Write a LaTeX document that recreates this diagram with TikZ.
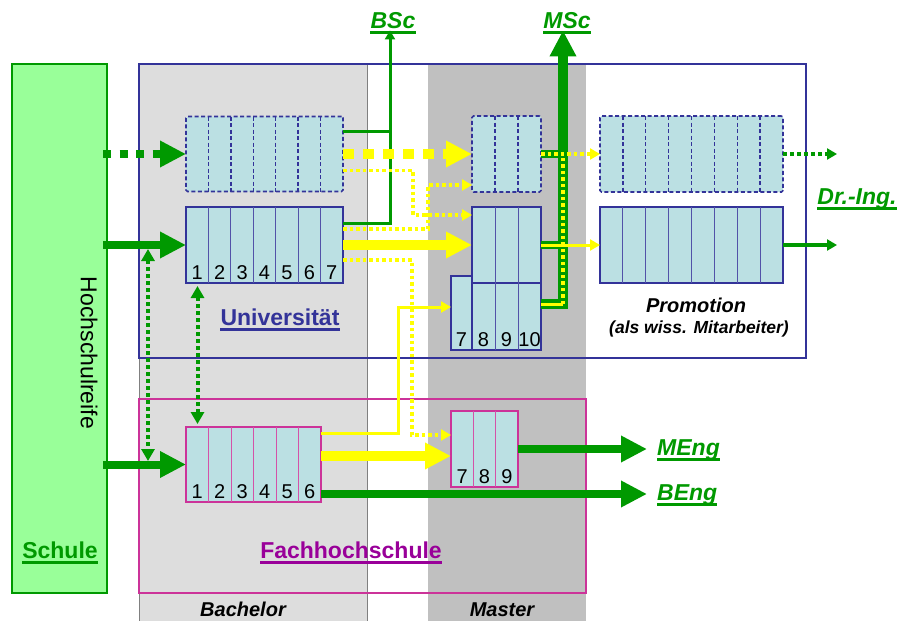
\documentclass[tikz,border=0pt]{standalone}
\usepackage{fontspec}
\setmainfont{Liberation Sans}
\usetikzlibrary{arrows.meta,calc}
\definecolor{grn}{HTML}{009900}
\definecolor{ublue}{HTML}{333399}
\definecolor{fpink}{HTML}{CC3399}
\definecolor{fpurp}{HTML}{990099}
\definecolor{cellfill}{HTML}{BBE0E3}
\definecolor{lgrey}{HTML}{DDDDDD}
\definecolor{dgrey}{HTML}{C0C0C0}
\definecolor{yel}{HTML}{FFFF00}
\definecolor{schfill}{HTML}{99FF99}
\begin{document}
\begin{tikzpicture}[x=1pt,y=-1pt,
  ucell/.style={draw=ublue, line width=1.2pt, fill=cellfill, inner sep=0pt, outer sep=0pt},
  udash/.style={draw=ublue, line width=1.6pt, dash pattern=on 4pt off 2.5pt, rounded corners=1.5pt, fill=cellfill, inner sep=0pt, outer sep=0pt},
  fcell/.style={draw=fpink, line width=1.2pt, fill=cellfill, inner sep=0pt, outer sep=0pt},
  udivd/.style={draw=ublue, line width=1.4pt, dash pattern=on 4pt off 2.5pt},
  udiv/.style={draw=ublue!85, line width=1pt},
  fdiv/.style={draw=fpink!85, line width=1pt},
  num/.style={font=\fontsize{20}{24}\selectfont, inner sep=0pt, anchor=base, yshift=3.5pt},
  glabel/.style={font=\fontsize{23}{27}\selectfont\bfseries\itshape, text=grn, inner sep=0pt},
  blabel/.style={font=\fontsize{23}{27}\selectfont\bfseries, inner sep=0pt, anchor=base},
  bigtip/.style={-{Triangle[length=26pt,width=25pt]}},
  smalltip/.style={-{Triangle[length=10pt,width=11pt]}},
  ydot/.style={yel, line width=3.5pt, dash pattern=on 3.5pt off 3pt},
  gdot/.style={grn, line width=4pt, dash pattern=on 4pt off 3pt},
]
\useasboundingbox (0,0) rectangle (900,621);
% columns
\fill[lgrey] (139,64) rectangle (367,621);
\fill[dgrey] (428,64) rectangle (586,621);
\draw[gray, line width=1pt] (139,64) -- (139,621) (367,64) -- (367,621);
% frames
\node[draw=ublue, line width=2.5pt, minimum width=667pt, minimum height=294pt, inner sep=0pt] (uni) at (472.5,211) {};
\node[draw=fpink, line width=2.5pt, minimum width=447pt, minimum height=194pt, inner sep=0pt] (fh) at (362.5,496) {};
\node[draw=grn, fill=schfill, line width=2.2pt, minimum width=95pt, minimum height=529pt, inner sep=0pt] (schule) at (59.5,328.5) {};
% cell blocks
\node[udash, minimum width=157pt, minimum height=75pt] (bd) at (264.5,154) {};
\node[ucell, minimum width=157pt, minimum height=76pt] (bs) at (264.5,245) {};
\node[udash, minimum width=69pt, minimum height=76pt] (md) at (506.5,154) {};
\node[ucell, minimum width=21pt, minimum height=74pt] (m7) at (461.5,313) {};
\node[ucell, minimum width=69pt, minimum height=67pt] (mlo) at (506.5,316.5) {};
\node[ucell, minimum width=69pt, minimum height=76pt] (ms) at (506.5,245) {};
\node[udash, minimum width=183pt, minimum height=76pt] (pd) at (691.5,154) {};
\node[ucell, minimum width=183pt, minimum height=76pt] (ps) at (691.5,245) {};
\node[fcell, minimum width=135pt, minimum height=75pt] (fb) at (253.5,464.5) {};
\node[fcell, minimum width=67pt, minimum height=76pt] (fm) at (484.5,449) {};
\foreach \b/\n/\st in {bd/7/udivd, bs/7/udiv, md/3/udivd, mlo/3/udiv, ms/3/udiv, pd/8/udivd, ps/8/udiv, fb/6/fdiv, fm/3/fdiv} {
  \pgfmathtruncatemacro\m{\n-1}
  \foreach \i in {1,...,\m}
    \draw[\st] ($(\b.north west)!{\i/\n}!(\b.north east)$) -- ($(\b.south west)!{\i/\n}!(\b.south east)$);
}
% numbers
\foreach \i in {1,...,7} \node[num] at ($(bs.south west)!{(\i-0.5)/7}!(bs.south east)$) {\i};
\node[num] at (m7.south) {7};
\foreach \i/\t in {1/8,2/9,3/10} \node[num] at ($(mlo.south west)!{(\i-0.5)/3}!(mlo.south east)$) {\t};
\foreach \i in {1,...,6} \node[num] at ($(fb.south west)!{(\i-0.5)/6}!(fb.south east)$) {\i};
\foreach \i/\t in {1/7,2/8,3/9} \node[num] at ($(fm.south west)!{(\i-0.5)/3}!(fm.south east)$) {\t};
% labels
\node[glabel, anchor=base] (bsc) at (393,28) {BSc};
\node[glabel, anchor=base] (msc) at (567,28) {MSc};
\node[glabel, anchor=base] (dring) at (857,204) {Dr.-Ing.};
\node[glabel, anchor=base west] (meng) at (657,455) {MEng};
\node[glabel, anchor=base west] (beng) at (657,500) {BEng};
\node[blabel, text=grn] (schl) at (60,558) {Schule};
\node[blabel, text=ublue] (unil) at (280,325) {Universität};
\node[blabel, text=fpurp] (fhl) at (351,558) {Fachhochschule};
\node[font=\fontsize{23}{27}\selectfont, rotate=-90, inner sep=0pt] (hsr) at (89,353) {Hochschulreife};
\node[font=\fontsize{20}{24}\selectfont\bfseries\itshape, anchor=base, inner sep=0pt] (prom) at (696,312) {Promotion};
\node[font=\fontsize{17.5}{21}\selectfont\bfseries\itshape, anchor=base, inner sep=0pt] (promsub) at (699,333) {(als wiss. Mitarbeiter)};
\node[font=\fontsize{20}{24}\selectfont\bfseries\itshape, anchor=base, inner sep=0pt] (bach) at (243,616) {Bachelor};
\node[font=\fontsize{20}{24}\selectfont\bfseries\itshape, anchor=base, inner sep=0pt] (mast) at (502,616) {Master};
\foreach \n/\cl in {bsc/grn,msc/grn,dring/grn,meng/grn,beng/grn,schl/grn,unil/ublue,fhl/fpurp}
  \draw[\cl, line width=2.8pt] ([yshift=-4.5pt]\n.base west) -- ([yshift=-4.5pt]\n.base east);
% green arrows from Schule
\draw[grn, line width=8pt, dash pattern=on 8pt off 8.5pt, bigtip] ($(schule.east |- bd.west)+(-5,0)$) -- (bd.west);
\draw[grn, line width=8pt, bigtip] ($(schule.east |- bs.west)+(-5,0)$) -- (bs.west);
\draw[grn, line width=8pt, bigtip] ($(schule.east |- fb.west)+(-5,0)$) -- (fb.west);
% vertical dotted double arrows
\coordinate (d1a) at (148,249);
\coordinate (d1b) at (148,461);
\draw[gdot, {Triangle[length=12pt,width=13pt]}-{Triangle[length=12pt,width=13pt]}] (d1a) -- (d1b);
\draw[gdot, {Triangle[length=12pt,width=13pt]}-{Triangle[length=12pt,width=13pt]}] ($(bs.south west)+(11.5,3)$) -- ($(fb.north west)+(11.5,-3)$);
% BSc
\draw[grn, line width=3pt] ($(bd.north east)+(0,15)$) -- ++(48.5,0);
\draw[grn, line width=3pt, -{Triangle[length=9pt,width=10pt]}] ($(bs.north east)+(0,16)$) -| ($(bsc.south)+(-3,2)$);
% MSc
\draw[grn, line width=8pt] (md.east) -- ++(26.5,0);
\draw[grn, line width=8pt] (ms.east) -- ++(26.5,0);
\draw[grn, line width=9.5pt, -{Triangle[length=26pt,width=25pt]}] ($(mlo.north east)+(0,21)$) -| ($(msc.south)+(-4,2)$);
\draw[yel, line width=3pt] ($(mlo.north east)+(0,21)$) -- ++(22,0);
\draw[ydot] ($(mlo.north east)+(22,21)$) -- ($(md.east)+(22,4)$);
% yellow to Promotion
\draw[yel, line width=3pt, smalltip] (ms.east) -- (ps.west);
\draw[ydot, smalltip] (md.east) -- (pd.west);
% green out of Promotion
\draw[grn, line width=4pt, smalltip] (ps.east) -- ++(54,0);
\draw[gdot, smalltip] (pd.east) -- ++(54,0);
% yellow Bachelor -> Master (Uni)
\draw[yel, line width=10pt, dash pattern=on 11pt off 9pt, bigtip] (bd.east) -- (md.west);
\draw[yel, line width=10pt, bigtip] (bs.east) -- (ms.west);
\draw[ydot, smalltip] ($(bd.south east)+(0,-21)$) -| ($(ms.north west)+(-59,8)$) -- ($(ms.north west)+(0,8)$);
\draw[ydot, smalltip] ($(bs.north east)+(0,22)$) -| ($(md.south west)+(-44,-7)$) -- ($(md.south west)+(0,-7)$);
\draw[ydot, smalltip] ($(bs.south east)+(0,-23)$) -| ($(fm.west)+(-39,-14)$) -- ($(fm.west)+(0,-14)$);
% yellow from FH Bachelor
\draw[yel, line width=3pt, smalltip] ($(fb.north east)+(0,6)$) -| ($(m7.west)+(-53,-6)$) -- ($(m7.west)+(0,-6)$);
\draw[yel, line width=10pt, bigtip] ($(fb.east)+(0,-8.5)$) -- ($(fm.west)+(0,7)$);
% MEng, BEng
\draw[grn, line width=8pt, bigtip] (fm.east) -- ($(fm.east -| meng.west)+(-10,0)$);
\draw[grn, line width=8pt, bigtip] ($(fb.south east)+(0,-8)$) -- ($(fb.south east -| beng.west)+(-10,-8)$);
\end{tikzpicture}
\end{document}
